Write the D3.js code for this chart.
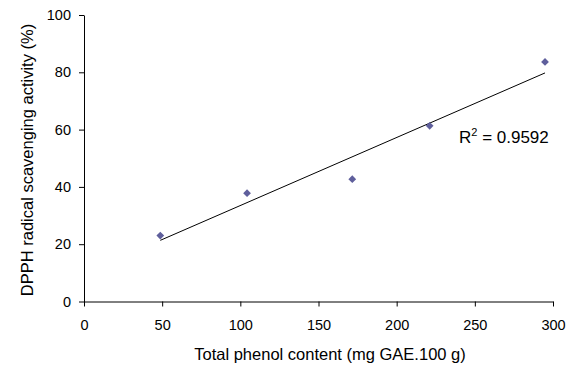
<!DOCTYPE html>
<html>
<head>
<meta charset="utf-8">
<script src="https://cdn.jsdelivr.net/npm/d3@7"></script>
<style>
  body { margin: 0; background: #fff; }
  svg text { font-family: Arial, "Liberation Sans", sans-serif; fill: #000; }
</style>
</head>
<body>
<script>
// phenol content vs DPPH scavenging
var phenol = [48.8, 104.3, 171.6, 221.1, 294.9]
var dpph = [23.0, 37.8, 42.7, 61.3, 83.6]
var xTicks = [0, 50, 100, 150, 200, 250, 300]
var yTicks = [0, 20, 40, 60, 80, 100]
var r2Label = "0.9592"

var W = 575, H = 369
var svg = d3.select("body").append("svg").attr("width", W).attr("height", H)

var x = d3.scaleLinear().domain([0, 300]).range([84, 553])
var y = d3.scaleLinear().domain([0, 100]).range([301.5, 15])

// axes
svg.append("g").attr("transform", "translate(0," + y(0) + ")")
  .call(d3.axisBottom(x).tickValues(xTicks).tickSize(5).tickPadding(13).tickSizeOuter(0))
svg.append("g").attr("transform", "translate(" + x(0) + ",0)")
  .call(d3.axisLeft(y).tickValues(yTicks).tickSize(5).tickPadding(8).tickSizeOuter(0))

svg.selectAll(".domain, .tick line").attr("stroke", "#000").attr("stroke-width", 1)
svg.selectAll(".tick text").style("font-size", "14.5px")

// least squares trend line
var data = phenol.map(function(d, i){ return [d, dpph[i]] })
var mx = d3.mean(phenol), my = d3.mean(dpph)
var sxy = d3.sum(data, function(d){ return (d[0]-mx)*(d[1]-my) })
var sxx = d3.sum(data, function(d){ return (d[0]-mx)*(d[0]-mx) })
var slope = sxy/sxx, icpt = my - slope*mx
var x0 = d3.min(phenol), x1 = d3.max(phenol)

svg.append("line")
  .attr("x1", x(x0)).attr("y1", y(icpt + slope*x0))
  .attr("x2", x(x1)).attr("y2", y(icpt + slope*x1))
  .attr("stroke", "#000").attr("stroke-width", 1)

// diamond markers
svg.selectAll("path.pt")
  .data(data)
  .enter()
  .append("path")
  .attr("class", "pt")
  .attr("d", d3.symbol().type(d3.symbolSquare).size(30))
  .attr("transform", function(d){ return "translate(" + x(d[0]) + "," + y(d[1]) + ") rotate(45)" })
  .attr("fill", "#5f5f9c")

// R² label
var r2 = svg.append("text").attr("x", 459).attr("y", 143).style("font-size", "17px")
r2.append("tspan").text("R")
r2.append("tspan").attr("dy", -7).style("font-size", "11px").text("2")
r2.append("tspan").attr("dy", 7).text(" = " + r2Label)

// axis titles
svg.append("text")
  .attr("x", 330).attr("y", 360)
  .attr("text-anchor", "middle")
  .style("font-size", "16.5px")
  .text("Total phenol content (mg GAE.100 g)")

svg.append("text")
  .attr("transform", "translate(33,160) rotate(-90)")
  .attr("text-anchor", "middle")
  .style("font-size", "16.5px")
  .text("DPPH radical scavenging activity (%)")
</script>
</body>
</html>
